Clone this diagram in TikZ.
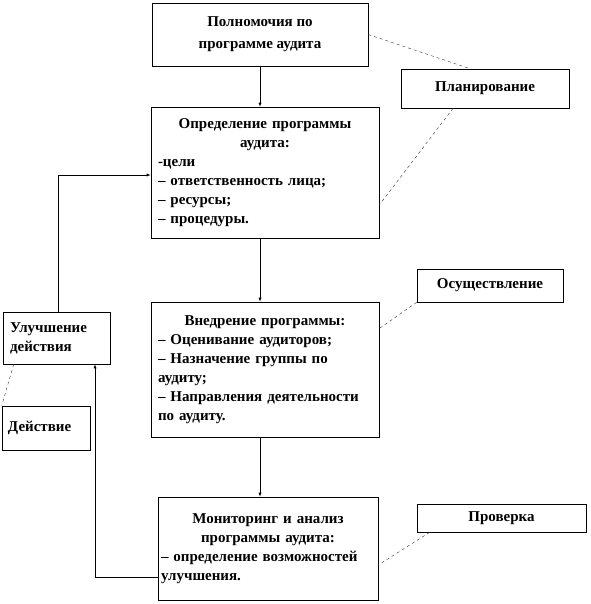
\documentclass[tikz,border=0pt]{standalone}
\usepackage{fontspec}
\setmainfont{Liberation Serif}
\usetikzlibrary{arrows}
\tikzset{Bbox/.style={shape=rectangle,draw,semithick,fill=white,inner ysep=3pt,inner xsep=7pt,font=\bfseries\fontsize{15}{19}\selectfont}}
\tikzset{Dline/.style={dashed,thin,gray!40!black}}

\begin{document}
\begin{tikzpicture}[x=1pt,y=-1pt,>=latex]
	\useasboundingbox (0,0) rectangle (590,604);
	\node[Bbox,minimum width=216,minimum height=63,align=center,font=\bfseries\fontsize{15}{22}\selectfont] (Pol) at (260,34.5) {Полномочия по\\программе аудита};
	\node[Bbox,minimum width=168,minimum height=39] (Plan) at (485,88.5) {Планирование};
	\node[Bbox,minimum width=228,minimum height=131,text width=214,align=left] (Opr) at (265,172.5)
		{{\centering Определение программы\\ аудита:\par}-цели\\– ответственность лица;\\– ресурсы;\\– процедуры.\\[4pt]};
	\node[Bbox,minimum width=146,minimum height=33] (Osu) at (490,285.5) {Осуществление};
	\node[Bbox,minimum width=228,minimum height=135,text width=214,align=left] (Vne) at (265,369.5)
		{{\centering Внедрение программы:\par}– Оценивание аудиторов;\\– Назначение группы по\\аудиту;\\– Направления деятельности\\по аудиту.\\[4pt]};
	\node[Bbox,minimum width=107,minimum height=52,text width=93,align=left,inner xsep=7pt] (Ulu) at (56.5,338) {Улучшение\\действия};
	\node[Bbox,minimum width=88,minimum height=44,text width=76,align=left,inner xsep=6pt] (Dei) at (46,428) {Действие\\[6pt]};
	\node[Bbox,minimum width=220,minimum height=103,text width=214,align=left,inner xsep=3pt] (Mon) at (268,548.5)
		{{\centering Мониторинг и анализ\\программы аудита:\par}– определение возможностей\\улучшения.\\[10pt]};
	\node[Bbox,minimum width=169,minimum height=28] (Pro) at (501.5,518) {Проверка};
	%
	\coordinate (up) at (58,175);
	\coordinate (bend) at (95,577);
	%
	\draw [->] (Pol.south) -- (Pol.south |- Opr.north);
	\draw [->] (Pol.south |- Opr.south) -- (Pol.south |- Vne.north);
	\draw [->] (Pol.south |- Vne.south) -- (Pol.south |- Mon.north);
	\draw [->] (Mon.west |- bend) -- (bend) -- (bend |- Ulu.south);
	\draw [->] (Ulu.north -| up) -- (up) -- (up -| Opr.west);
	%
	\draw [Dline] (Pol.east) -- ([xshift=-15]Plan.north);
	\draw [Dline] ([xshift=-32]Plan.south) -- ([yshift=-32.5]Opr.east);
	\draw [Dline] (Osu.south west) -- ([yshift=41]Vne.east);
	\draw [Dline] ([xshift=11]Ulu.south west) -- (Dei.north west);
	\draw [Dline] ([xshift=13]Pro.south west) -- ([yshift=-16.5]Mon.east);
\end{tikzpicture}
\end{document}
